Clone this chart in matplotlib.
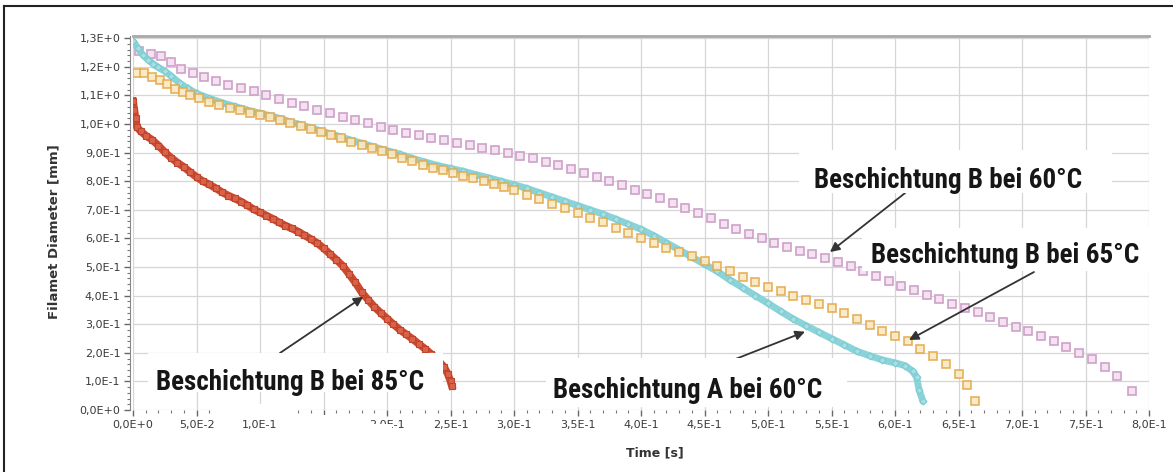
import matplotlib
matplotlib.use("Agg")
import matplotlib.pyplot as plt
from matplotlib import font_manager
from matplotlib.patches import Rectangle
from matplotlib.lines import Line2D
from matplotlib.ticker import MultipleLocator

# Beschichtung B bei 60°C (rosa Quadrate)
pink_t = [0.005, 0.014, 0.022, 0.030, 0.038, 0.047, 0.056, 0.065, 0.075, 0.085,
          0.095, 0.105, 0.115, 0.125, 0.135, 0.145, 0.155, 0.165, 0.175, 0.185,
          0.195, 0.205, 0.215, 0.225, 0.235, 0.245, 0.255, 0.265, 0.275, 0.285,
          0.295, 0.305, 0.315, 0.325, 0.335, 0.345, 0.355, 0.365, 0.375, 0.385,
          0.395, 0.405, 0.415, 0.425, 0.435, 0.445, 0.455, 0.465, 0.475, 0.485,
          0.495, 0.505, 0.515, 0.525, 0.535, 0.545, 0.555, 0.565, 0.575, 0.585,
          0.595, 0.605, 0.615, 0.625, 0.635, 0.645, 0.655, 0.665, 0.675, 0.685,
          0.695, 0.705, 0.715, 0.725, 0.735, 0.745, 0.755, 0.765, 0.775, 0.787]
pink_d = [1.255, 1.245, 1.238, 1.218, 1.192, 1.178, 1.166, 1.152, 1.138, 1.126,
          1.115, 1.101, 1.087, 1.074, 1.063, 1.050, 1.038, 1.026, 1.014, 1.003,
          0.991, 0.980, 0.970, 0.961, 0.953, 0.943, 0.934, 0.926, 0.918, 0.909,
          0.899, 0.889, 0.880, 0.869, 0.856, 0.843, 0.830, 0.815, 0.800, 0.786,
          0.771, 0.756, 0.740, 0.723, 0.706, 0.689, 0.671, 0.651, 0.634, 0.617,
          0.600, 0.584, 0.570, 0.556, 0.544, 0.531, 0.518, 0.503, 0.487, 0.469,
          0.452, 0.435, 0.419, 0.402, 0.388, 0.372, 0.357, 0.342, 0.326, 0.309,
          0.292, 0.276, 0.259, 0.240, 0.220, 0.199, 0.177, 0.150, 0.118, 0.065]

# Beschichtung B bei 65°C (orange Quadrate)
orange_t = [0.003, 0.009, 0.015, 0.021, 0.027, 0.033, 0.039, 0.045, 0.052, 0.060,
            0.068, 0.076, 0.084, 0.092, 0.100, 0.108, 0.116, 0.124, 0.132, 0.140,
            0.148, 0.156, 0.164, 0.172, 0.180, 0.188, 0.196, 0.204, 0.212, 0.220,
            0.228, 0.236, 0.244, 0.252, 0.260, 0.268, 0.276, 0.284, 0.292, 0.300,
            0.310, 0.320, 0.330, 0.340, 0.350, 0.360, 0.370, 0.380, 0.390, 0.400,
            0.410, 0.420, 0.430, 0.440, 0.450, 0.460, 0.470, 0.480, 0.490, 0.500,
            0.510, 0.520, 0.530, 0.540, 0.550, 0.560, 0.570, 0.580, 0.590, 0.600,
            0.610, 0.620, 0.630, 0.640, 0.650, 0.657, 0.663]
orange_d = [1.180, 1.178, 1.165, 1.154, 1.140, 1.124, 1.112, 1.100, 1.090, 1.078,
            1.066, 1.057, 1.049, 1.040, 1.032, 1.023, 1.014, 1.003, 0.992, 0.982,
            0.972, 0.961, 0.950, 0.939, 0.928, 0.917, 0.906, 0.895, 0.883, 0.870,
            0.858, 0.848, 0.838, 0.828, 0.818, 0.810, 0.800, 0.790, 0.780, 0.769,
            0.753, 0.738, 0.722, 0.706, 0.690, 0.673, 0.656, 0.638, 0.620, 0.601,
            0.585, 0.568, 0.552, 0.537, 0.520, 0.502, 0.485, 0.466, 0.448, 0.430,
            0.415, 0.400, 0.385, 0.370, 0.355, 0.338, 0.318, 0.298, 0.278, 0.260,
            0.242, 0.212, 0.188, 0.160, 0.125, 0.087, 0.030]

# Beschichtung A bei 60°C (cyan)
cyan_t = [0.000, 0.004, 0.008, 0.012, 0.016, 0.020, 0.025, 0.030, 0.037, 0.043,
          0.050, 0.060, 0.070, 0.080, 0.090, 0.100, 0.110, 0.120, 0.130, 0.140,
          0.150, 0.160, 0.170, 0.180, 0.190, 0.200, 0.210, 0.220, 0.230, 0.240,
          0.250, 0.260, 0.270, 0.280, 0.290, 0.300, 0.310, 0.320, 0.330, 0.340,
          0.350, 0.360, 0.370, 0.380, 0.390, 0.400, 0.410, 0.420, 0.430, 0.440,
          0.450, 0.460, 0.470, 0.480, 0.490, 0.500, 0.510, 0.520, 0.530, 0.540,
          0.550, 0.560, 0.570, 0.580, 0.590, 0.600, 0.608, 0.614, 0.617, 0.619,
          0.622]
cyan_d = [1.290, 1.265, 1.240, 1.225, 1.210, 1.198, 1.185, 1.168, 1.142, 1.125,
          1.107, 1.090, 1.075, 1.062, 1.049, 1.038, 1.027, 1.013, 1.000, 0.987,
          0.973, 0.960, 0.946, 0.933, 0.920, 0.907, 0.895, 0.880, 0.867, 0.855,
          0.845, 0.835, 0.823, 0.812, 0.800, 0.788, 0.775, 0.760, 0.745, 0.730,
          0.715, 0.700, 0.685, 0.668, 0.650, 0.632, 0.610, 0.585, 0.560, 0.535,
          0.510, 0.485, 0.455, 0.428, 0.400, 0.373, 0.345, 0.318, 0.295, 0.272,
          0.250, 0.228, 0.205, 0.190, 0.175, 0.165, 0.155, 0.135, 0.115, 0.070,
          0.030]

# Beschichtung B bei 85°C (rot)
red_t = [0.000, 0.001, 0.002, 0.003, 0.006, 0.010, 0.015, 0.020, 0.025, 0.030,
         0.035, 0.040, 0.045, 0.050, 0.055, 0.060, 0.065, 0.070, 0.075, 0.080,
         0.085, 0.090, 0.095, 0.100, 0.105, 0.110, 0.115, 0.120, 0.125, 0.130,
         0.135, 0.140, 0.145, 0.150, 0.155, 0.160, 0.165, 0.170, 0.175, 0.180,
         0.185, 0.190, 0.195, 0.200, 0.205, 0.210, 0.215, 0.220, 0.225, 0.230,
         0.235, 0.240, 0.245, 0.248, 0.250, 0.251]
red_d = [1.080, 1.050, 1.020, 0.990, 0.975, 0.960, 0.945, 0.925, 0.902, 0.882,
         0.865, 0.850, 0.832, 0.815, 0.800, 0.789, 0.776, 0.762, 0.750, 0.740,
         0.729, 0.716, 0.702, 0.691, 0.680, 0.669, 0.656, 0.645, 0.635, 0.624,
         0.611, 0.598, 0.584, 0.566, 0.546, 0.526, 0.505, 0.476, 0.446, 0.412,
         0.386, 0.361, 0.340, 0.320, 0.300, 0.281, 0.265, 0.249, 0.231, 0.214,
         0.195, 0.175, 0.150, 0.125, 0.100, 0.085]

x_ticks = [0.0, 0.05, 0.1, 0.15, 0.2, 0.25, 0.3, 0.35, 0.4, 0.45, 0.5, 0.55,
           0.6, 0.65, 0.7, 0.75, 0.8]
x_labels = ["0,0E+0", "5,0E-2", "1,0E-1", "1,5E-1", "2,0E-1", "2,5E-1", "3,0E-1",
            "3,5E-1", "4,0E-1", "4,5E-1", "5,0E-1", "5,5E-1", "6,0E-1", "6,5E-1",
            "7,0E-1", "7,5E-1", "8,0E-1"]
y_ticks = [0.0, 0.1, 0.2, 0.3, 0.4, 0.5, 0.6, 0.7, 0.8, 0.9, 1.0, 1.1, 1.2, 1.3]
y_labels = ["0,0E+0", "1,0E-1", "2,0E-1", "3,0E-1", "4,0E-1", "5,0E-1", "6,0E-1",
            "7,0E-1", "8,0E-1", "9,0E-1", "1,0E+0", "1,1E+0", "1,2E+0", "1,3E+0"]


# schmale fette Schrift suchen (wie Arial Narrow im Original)
def pick_narrow_font():
    cands = [dict(family="Liberation Sans Narrow"), dict(family="Roboto Condensed"),
             dict(family="Open Sans Condensed"), dict(family="Noto Sans Condensed"),
             dict(family="DejaVu Sans Condensed"),
             dict(family="DejaVu Sans", stretch="condensed"),
             dict(family="Noto Sans", stretch="condensed"),
             dict(family="Roboto", stretch="condensed")]
    for c in cands:
        fp = font_manager.FontProperties(weight="bold", **c)
        try:
            path = font_manager.findfont(fp, fallback_to_default=False)
        except Exception:
            continue
        if "ondensed" in path or "arrow" in path:
            return font_manager.FontProperties(fname=path), True
    path = font_manager.findfont(font_manager.FontProperties(family="Liberation Sans", weight="bold"))
    return font_manager.FontProperties(fname=path), False


ann_fp, is_narrow = pick_narrow_font()
ann_fp.set_size(19.5 if is_narrow else 16)

W, H = 1173, 472
fig = plt.figure(figsize=(W / 100, H / 100), dpi=100)
ax = fig.add_axes([133 / W, 1 - 410 / H, (1149 - 133) / W, (410 - 36) / H])
ax.set_xlim(0, 0.8)
ax.set_ylim(0, 1.308)

# Messreihen
ax.plot(pink_t, pink_d, ls="none", marker="s", ms=5.5, mfc="#f3e2f0", mec="#cfa0ca", mew=1.2, zorder=3)
ax.plot(cyan_t, cyan_d, color="#8ad3d8", lw=5, marker="D", ms=3.5, mfc="#a8dfe3",
        mec="#7ccbd1", mew=0.8, solid_capstyle="round", zorder=3)
ax.plot(orange_t, orange_d, ls="none", marker="s", ms=5.5, mfc="#fbe8c2", mec="#e4aa4c", mew=1.2,
        alpha=0.9, zorder=3)
ax.plot(red_t, red_d, color="#cc4a30", lw=5.5, marker="s", ms=4, mfc="#d8634a", mec="#c0442a",
        mew=0.8, zorder=3)

# Achsen
ax.set_xticks(x_ticks)
ax.set_xticklabels(x_labels)
ax.set_yticks(y_ticks)
ax.set_yticklabels(y_labels)
ax.xaxis.set_minor_locator(MultipleLocator(0.01))
ax.yaxis.set_minor_locator(MultipleLocator(0.02))
ax.grid(True, which="major", color="#d6d6d6", lw=0.9)
ax.set_axisbelow(True)
for s in ["right", "bottom"]:
    ax.spines[s].set_visible(False)
ax.spines["top"].set_color("#a8a8a8")
ax.spines["top"].set_linewidth(2)
ax.spines["left"].set_color("#888888")
ax.spines["left"].set_position(("outward", 2))
ax.tick_params(which="major", direction="out", length=4.5, width=1, color="#666666",
               labelsize=8, labelcolor="#3a3a3a", pad=2.5)
ax.tick_params(which="minor", direction="out", length=2.2, width=0.8, color="#777777")

ax.set_ylabel("Filamet Diameter [mm]", fontsize=9.5, fontweight="bold", color="#333333", labelpad=8)
ax.set_xlabel("Time [s]", fontsize=9, fontweight="bold", color="#333333", labelpad=6)
ax.xaxis.set_label_coords((655 - 133) / (1149 - 133), -(446 - 410) / (410 - 36))
ax.yaxis.set_label_coords(-(133 - 60) / (1149 - 133), (410 - 232) / (410 - 36))

# Beschriftungen mit weissen Kaesten
boxes = [((0.5244, 0.7587), 0.2465, 0.1504),
         ((0.5740, 0.4860), 0.2268, 0.1504),
         ((0.3252, 0.0105), 0.2370, 0.1713),
         ((0.0118, 0.0629), 0.2323, 0.1364)]
for (x0, y0), w, h in boxes:
    ax.add_patch(Rectangle((x0, y0), w, h, facecolor="white", edgecolor="none", zorder=6))

labels = [(0.642, 0.776, "Beschichtung B bei 60°C"),
          (0.687, 0.514, "Beschichtung B bei 65°C"),
          (0.437, 0.042, "Beschichtung A bei 60°C"),
          (0.1236, 0.070, "Beschichtung B bei 85°C")]
for x, y, s in labels:
    ax.text(x, y, s, ha="center", va="baseline", zorder=7, fontproperties=ann_fp, color="#161616")

arrow = dict(arrowstyle="-|>", color="#333333", lw=1.3, mutation_scale=14, shrinkA=0, shrinkB=0)
ax.annotate("", xy=(0.5488, 0.5524), xytext=(0.6079, 0.7587), arrowprops=arrow, zorder=5)
ax.annotate("", xy=(0.6110, 0.2448), xytext=(0.7094, 0.4825), arrowprops=arrow, zorder=5)
ax.annotate("", xy=(0.5291, 0.2738), xytext=(0.4724, 0.1748), arrowprops=arrow, zorder=5)
ax.annotate("", xy=(0.1813, 0.3960), xytext=(0.1157, 0.1993), arrowprops=arrow, zorder=5)

# weisse Flecken ueber Teilen der x-Achse (wie im Original)
for x0, y0, x1, y1 in [(212, 404, 296, 418), (296, 415, 350, 429), (360, 424, 392, 434)]:
    fig.add_artist(Rectangle((x0 / W, 1 - y1 / H), (x1 - x0) / W, (y1 - y0) / H,
                             transform=fig.transFigure, facecolor="white", edgecolor="none", zorder=10))

# Rahmen oben und links
fig.add_artist(Line2D([4 / W, 1], [1 - 6 / H, 1 - 6 / H], transform=fig.transFigure, color="#222222", lw=1.5))
fig.add_artist(Line2D([4 / W, 4 / W], [0, 1 - 6 / H], transform=fig.transFigure, color="#222222", lw=1.5))

fig.savefig("out.png", dpi=100)
